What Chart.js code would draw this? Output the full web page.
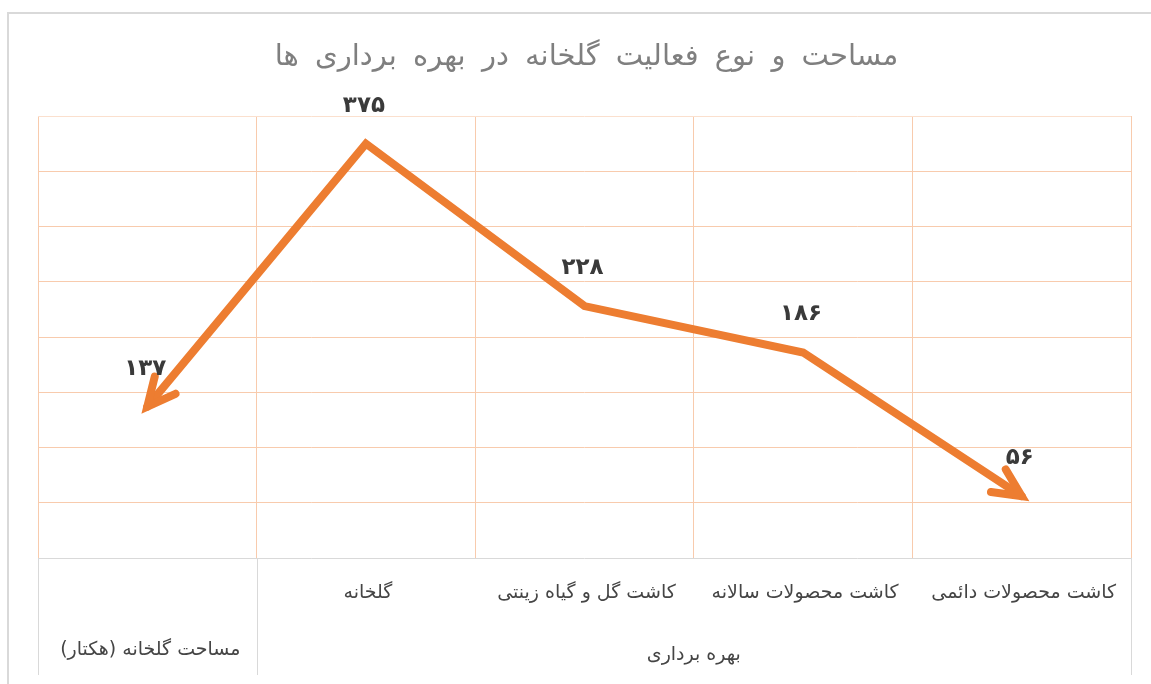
<!DOCTYPE html>
<html>
<head>
<meta charset="utf-8">
<script src="https://cdn.jsdelivr.net/npm/chart.js@4/dist/chart.umd.min.js"></script>
<style>
html,body{margin:0;padding:0;background:#fff;}
canvas{display:block;}
</style>
</head>
<body>
<canvas id="c" width="1151" height="684"></canvas>
<script>
const chartTitle = 'مساحت و نوع فعالیت گلخانه در بهره برداری ها';
const categories = ['مساحت گلخانه (هکتار)', 'گلخانه', 'کاشت گل و گیاه زینتی', 'کاشت محصولات سالانه', 'کاشت محصولات دائمی'];
const values = [137, 375, 228, 186, 56];
const groupLabel = 'بهره برداری';
const groupStart = 1; // first category index belonging to the group
const yTicks = [0, 50, 100, 150, 200, 250, 300, 350, 400];

const FA = 'DejaVu Sans';
function toPersian(n){ return String(n).replace(/\d/g, d => '۰۱۲۳۴۵۶۷۸۹'[d]); }

const ORANGE = '#ED7D31';
const GRID = '#F8CBAD';
const GREY = '#D9D9D9';

function drawArrow(ctx, tip, from){
  const ang = Math.atan2(from.y - tip.y, from.x - tip.x);
  const len = 31, spread = 0.45;
  ctx.save();
  ctx.strokeStyle = ORANGE; ctx.lineWidth = 8; ctx.lineCap = 'round'; ctx.lineJoin = 'miter';
  ctx.beginPath();
  ctx.moveTo(tip.x + len*Math.cos(ang+spread), tip.y + len*Math.sin(ang+spread));
  ctx.lineTo(tip.x, tip.y);
  ctx.lineTo(tip.x + len*Math.cos(ang-spread), tip.y + len*Math.sin(ang-spread));
  ctx.stroke();
  ctx.restore();
}

const custom = {
  id: 'custom',
  beforeDraw(chart){
    const ctx = chart.ctx;
    ctx.save();
    ctx.strokeStyle = GREY; ctx.lineWidth = 2;
    ctx.strokeRect(8, 13, 1170, 700);
    ctx.restore();
  },
  afterDraw(chart){
    const ctx = chart.ctx, ca = chart.chartArea, xs = chart.scales.x;
    const meta = chart.getDatasetMeta(0);
    const pts = meta.data;
    // arrows at both ends
    drawArrow(ctx, pts[0], pts[1]);
    drawArrow(ctx, pts[pts.length-1], pts[pts.length-2]);
    // data labels
    ctx.save();
    ctx.fillStyle = '#3A3A3A';
    ctx.font = 'bold 23px "' + FA + '"';
    ctx.textAlign = 'center'; ctx.textBaseline = 'middle';
    pts.forEach((p,i) => ctx.fillText(toPersian(values[i]), p.x - 2, p.y - 38));
    ctx.restore();
    // title
    ctx.save();
    ctx.fillStyle = '#7F7F7F';
    ctx.font = '29px "' + FA + '"';
    ctx.direction = 'rtl';
    if ('letterSpacing' in ctx) ctx.letterSpacing = '7px';
    ctx.textAlign = 'center'; ctx.textBaseline = 'middle';
    ctx.fillText(chartTitle, (ca.left + ca.right)/2 + 2, 57);
    ctx.restore();
    // lower category axis separators
    const bottomY = 675;
    const sep = (xs.getPixelForValue(groupStart - 1) + xs.getPixelForValue(groupStart)) / 2;
    ctx.save();
    ctx.strokeStyle = GREY; ctx.lineWidth = 1;
    [ca.left, sep, ca.right].forEach(x => {
      ctx.beginPath(); ctx.moveTo(Math.round(x)+0.5, ca.bottom); ctx.lineTo(Math.round(x)+0.5, bottomY); ctx.stroke();
    });
    ctx.restore();
    // category labels
    ctx.save();
    ctx.fillStyle = '#454545';
    ctx.font = '19px "' + FA + '"';
    ctx.direction = 'rtl';
    ctx.textAlign = 'center'; ctx.textBaseline = 'middle';
    categories.forEach((c,i) => {
      const x = xs.getPixelForValue(i);
      if (i < groupStart) ctx.fillText(c, x + 3, 650);
      else ctx.fillText(c, x + 2, 593);
    });
    const gx = (sep + ca.right) / 2;
    ctx.fillText(groupLabel, gx, 655);
    ctx.restore();
  }
};

new Chart(document.getElementById('c'), {
  type: 'line',
  data: {
    labels: categories,
    datasets: [{
      data: values,
      borderColor: ORANGE,
      borderWidth: 8,
      pointRadius: 0,
      tension: 0,
      borderJoinStyle: 'miter',
      borderCapStyle: 'round',
      fill: false
    }]
  },
  options: {
    responsive: false,
    animation: false,
    layout: { padding: { left: 38, right: 20, top: 116, bottom: 126 } },
    plugins: { legend: { display: false }, title: { display: false }, tooltip: { enabled: false } },
    scales: {
      x: {
        offset: true,
        ticks: { display: false },
        grid: { offset: true, color: GRID, drawTicks: false, lineWidth: 1 },
        border: { display: false }
      },
      y: {
        min: 0, max: 400,
        afterBuildTicks: s => { s.ticks = yTicks.map(v => ({ value: v })); },
        ticks: { display: false },
        grid: { drawTicks: false, color: c => c.tick.value === 0 ? GREY : (c.tick.value === 400 ? '#FBE0CE' : GRID) },
        border: { display: false }
      }
    }
  },
  plugins: [custom]
});
</script>
</body>
</html>
